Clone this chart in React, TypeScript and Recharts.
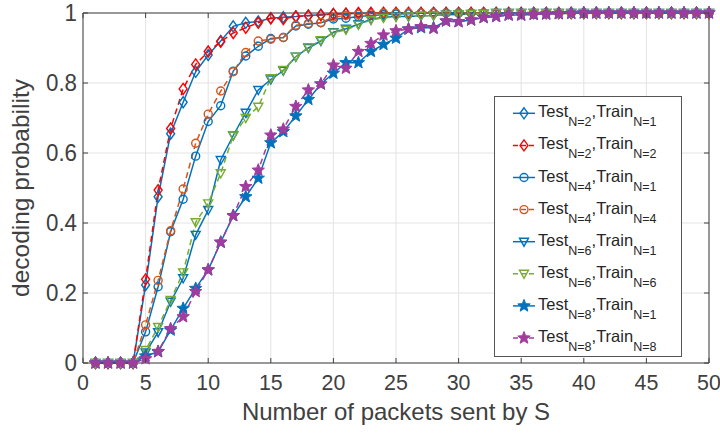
import React from "react";
import { LineChart, Line, XAxis, YAxis, CartesianGrid, ReferenceLine } from "recharts";

const packets = [1,2,3,4,5,6,7,8,9,10,11,12,13,14,15,16,17,18,19,20,21,22,23,24,25,26,27,28,29,30,31,32,33,34,35,36,37,38,39,40,41,42,43,44,45,46,47,48,49,50];

const test2train1 = [0,0,0,0,0.223,0.475,0.655,0.745,0.832,0.88, 0.92,0.962,0.972,0.976,0.985,0.988,0.99,0.993,0.995,0.997, 0.998,0.999,1,1,1,1,1,1,1,1, 1,1,1,1,1,1,1,1,1,1, 1,1,1,1,1,1,1,1,1,1];
const test2train2 = [0,0,0,0,0.239,0.494,0.67,0.783,0.853,0.89, 0.918,0.943,0.958,0.972,0.985,0.983,0.99,0.992,0.994,0.997, 0.998,1,1,1,1,1,1,1,1,1, 1,1,1,1,1,1,1,1,1,1, 1,1,1,1,1,1,1,1,1,1];
const test4train1 = [0,0,0,0,0.089,0.218,0.375,0.468,0.591,0.69, 0.735,0.834,0.877,0.905,0.927,0.93,0.963,0.968,0.972,0.983, 0.985,0.99,0.993,0.995,0.997,0.998,0.999,1,1,1, 1,1,1,1,1,1,1,1,1,1, 1,1,1,1,1,1,1,1,1,1];
const test4train4 = [0,0,0,0,0.109,0.236,0.378,0.497,0.628,0.711, 0.777,0.832,0.887,0.92,0.925,0.93,0.965,0.97,0.973,0.988, 0.993,0.996,0.998,1,1,1,1,1,1,1, 1,1,1,1,1,1,1,1,1,1, 1,1,1,1,1,1,1,1,1,1];
const test6train1 = [0,0,0,0,0.03,0.088,0.175,0.242,0.366,0.437, 0.58,0.65,0.715,0.78,0.81,0.835,0.875,0.9,0.92,0.945, 0.955,0.968,0.982,0.988,0.99,0.99,0.992,0.993,0.995,0.996, 0.997,0.998,1,1,1,1,1,1,1,1, 1,1,1,1,1,1,1,1,1,1];
const test6train6 = [0,0,0,0,0.037,0.103,0.18,0.259,0.402,0.456, 0.542,0.65,0.7,0.732,0.814,0.837,0.875,0.902,0.922,0.944, 0.952,0.966,0.98,0.986,0.989,0.99,0.992,0.993,0.995,0.996, 0.997,0.998,1,1,1,1,1,1,1,1, 1,1,1,1,1,1,1,1,1,1];
const test8train1 = [0,0,0,0,0.02,0.032,0.094,0.156,0.213,0.266, 0.345,0.421,0.475,0.528,0.629,0.661,0.706,0.753,0.797,0.828, 0.858,0.858,0.89,0.91,0.928,0.954,0.958,0.958,0.977,0.975, 0.98,0.987,0.99,0.994,0.994,0.996,0.997,0.998,0.999,1, 1,1,1,1,1,1,1,1,1,1];
const test8train8 = [0,0,0,0,0.012,0.033,0.098,0.132,0.204,0.266, 0.345,0.421,0.504,0.551,0.651,0.668,0.733,0.78,0.797,0.851, 0.842,0.89,0.913,0.937,0.949,0.954,0.961,0.956,0.977,0.975, 0.98,0.987,0.99,0.994,0.994,0.996,0.997,0.998,0.999,1, 1,1,1,1,1,1,1,1,1,1];

const xTicks = [0, 5, 10, 15, 20, 25, 30, 35, 40, 45, 50];
const yTicks = [0, 0.2, 0.4, 0.6, 0.8, 1];
const yTickLabels = ["0", "0.2", "0.4", "0.6", "0.8", "1"];

const BLUE = "#0072BD";
const RED = "#FF0000";
const ORANGE = "#D95319";
const GREEN = "#77AC30";
const PURPLE = "#A03C9E";
const TXT = "#404040";
const FONT = "Liberation Sans, Arial, sans-serif";

type Shape = "diamond" | "circle" | "tri" | "star";

const seriesList = [
  { key: "a", values: test2train1, color: BLUE, dashed: false, shape: "diamond" as Shape, test: "N=2", train: "N=1" },
  { key: "b", values: test2train2, color: RED, dashed: true, shape: "diamond" as Shape, test: "N=2", train: "N=2" },
  { key: "c", values: test4train1, color: BLUE, dashed: false, shape: "circle" as Shape, test: "N=4", train: "N=1" },
  { key: "d", values: test4train4, color: ORANGE, dashed: true, shape: "circle" as Shape, test: "N=4", train: "N=4" },
  { key: "e", values: test6train1, color: BLUE, dashed: false, shape: "tri" as Shape, test: "N=6", train: "N=1" },
  { key: "f", values: test6train6, color: GREEN, dashed: true, shape: "tri" as Shape, test: "N=6", train: "N=6" },
  { key: "g", values: test8train1, color: BLUE, dashed: false, shape: "star" as Shape, test: "N=8", train: "N=1" },
  { key: "h", values: test8train8, color: PURPLE, dashed: true, shape: "star" as Shape, test: "N=8", train: "N=8" },
];

const rows = packets.map((p, i) => {
  const r: Record<string, number> = { x: p };
  seriesList.forEach((s) => { r[s.key] = s.values[i]; });
  return r;
});

const W = 720, H = 441;
const M = { top: 13, right: 11, left: 0, bottom: 0 };
const YW = 83, XH = 78;
const PLOT_W = W - YW - M.right;
const PLOT_H = H - M.top - XH;

function starPoints(cx: number, cy: number, R: number, r: number) {
  const pts: string[] = [];
  for (let i = 0; i < 10; i++) {
    const a = -Math.PI / 2 + (i * Math.PI) / 5;
    const rad = i % 2 === 0 ? R : r;
    pts.push(`${cx + rad * Math.cos(a)},${cy + rad * Math.sin(a)}`);
  }
  return pts.join(" ");
}

function marker(shape: Shape, cx: number, cy: number, color: string, key?: any) {
  const sw = 1.4;
  if (shape === "diamond")
    return <polygon key={key} points={`${cx},${cy - 5.5} ${cx + 4},${cy} ${cx},${cy + 5.5} ${cx - 4},${cy}`} fill="none" stroke={color} strokeWidth={sw} />;
  if (shape === "circle")
    return <circle key={key} cx={cx} cy={cy} r={4} fill="none" stroke={color} strokeWidth={sw} />;
  if (shape === "tri")
    return <polygon key={key} points={`${cx - 4.5},${cy - 3.5} ${cx + 4.5},${cy - 3.5} ${cx},${cy + 4.5}`} fill="none" stroke={color} strokeWidth={sw} />;
  return <polygon key={key} points={starPoints(cx, cy, 6.5, 2.8)} fill={color} stroke={color} strokeWidth={1} strokeLinejoin="round" />;
}

const makeDot = (shape: Shape, color: string) => (props: any) => {
  const { cx, cy, index } = props;
  if (cx == null || cy == null) return <g key={index} />;
  return marker(shape, cx, cy, color, index);
};

const XTick = (props: any) => {
  const { x, y, payload } = props;
  return (
    <g>
      <line x1={x} y1={y} x2={x} y2={y - 5} stroke={TXT} strokeWidth={1} />
      <line x1={x} y1={y - PLOT_H} x2={x} y2={y - PLOT_H + 5} stroke={TXT} strokeWidth={1} />
      <text transform={`translate(${x},${y + 19}) scale(0.93,1)`} textAnchor="middle" dominantBaseline="central" fontSize={23} fill={TXT} fontFamily={FONT}>
        {payload.value}
      </text>
    </g>
  );
};

const YTick = (props: any) => {
  const { x, y, payload } = props;
  const label = yTickLabels[yTicks.indexOf(payload.value)] ?? String(payload.value);
  return (
    <g>
      <line x1={x} y1={y} x2={x + 5} y2={y} stroke={TXT} strokeWidth={1} />
      <line x1={x + PLOT_W} y1={y} x2={x + PLOT_W - 5} y2={y} stroke={TXT} strokeWidth={1} />
      <text transform={`translate(${x - 6},${y}) scale(0.93,1)`} textAnchor="end" dominantBaseline="central" fontSize={24} fill={TXT} fontFamily={FONT}>
        {label}
      </text>
    </g>
  );
};

const LEG = { left: 494, top: 96, w: 188, h: 261, rowStart: 17.3, rowGap: 32.1 };

function LegendBox() {
  return (
    <svg style={{ position: "absolute", left: LEG.left, top: LEG.top }} width={LEG.w} height={LEG.h}>
      <rect x={0.5} y={0.5} width={LEG.w - 1} height={LEG.h - 1} fill="#fff" stroke="#555" strokeWidth={1} />
      {seriesList.map((s, i) => {
        const cy = LEG.rowStart + LEG.rowGap * i;
        return (
          <g key={s.key}>
            <line x1={19} y1={cy} x2={41} y2={cy} stroke={s.color} strokeWidth={1.5} strokeDasharray={s.dashed ? "5 3" : undefined} />
            {marker(s.shape, 30, cy, s.color)}
            <text x={44} y={cy + 4} fontSize={16.5} fill="#262626" fontFamily={FONT}>
              <tspan>Test</tspan>
              <tspan dy={9} fontSize={12.5}>{s.test}</tspan>
              <tspan dy={-9}>,Train</tspan>
              <tspan dy={9} fontSize={12.5}>{s.train}</tspan>
            </text>
          </g>
        );
      })}
    </svg>
  );
}

export default function App() {
  return (
    <div style={{ position: "absolute", left: 0, top: 0, width: W, height: H, background: "#fff" }}>
      <LineChart width={W} height={H} data={rows} margin={M}>
        <CartesianGrid stroke="#e3e3e3" strokeWidth={1} />
        <XAxis
          dataKey="x"
          type="number"
          domain={[0, 50]}
          ticks={xTicks}
          interval={0}
          height={XH}
          tickSize={0}
          tickMargin={0}
          tick={<XTick />}
          axisLine={{ stroke: TXT, strokeWidth: 1 }}
          tickLine={false}
          label={{ value: "Number of packets sent by S", position: "insideBottom", offset: 21, fontSize: 24, fill: TXT, fontFamily: FONT }}
        />
        <YAxis
          type="number"
          domain={[0, 1]}
          ticks={yTicks}
          interval={0}
          width={YW}
          tickSize={0}
          tickMargin={0}
          tick={<YTick />}
          axisLine={{ stroke: TXT, strokeWidth: 1 }}
          tickLine={false}
          label={{ value: "decoding probability", angle: -90, position: "insideLeft", offset: 20, fontSize: 24.5, fill: TXT, fontFamily: FONT, style: { textAnchor: "middle" } }}
        />
        <ReferenceLine y={1} stroke={TXT} strokeWidth={1} />
        <ReferenceLine x={50} stroke={TXT} strokeWidth={1} />
        {seriesList.map((s) => (
          <Line
            key={s.key}
            dataKey={s.key}
            type="linear"
            stroke={s.color}
            strokeWidth={1.5}
            strokeDasharray={s.dashed ? "6 4" : undefined}
            dot={makeDot(s.shape, s.color)}
            activeDot={false}
            isAnimationActive={false}
          />
        ))}
      </LineChart>
      <LegendBox />
    </div>
  );
}
